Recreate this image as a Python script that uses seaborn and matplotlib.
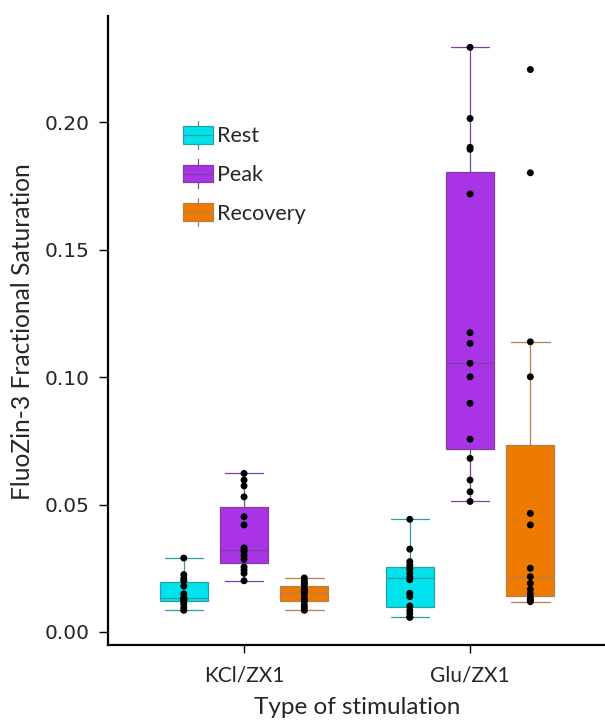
import pandas as pd
import matplotlib.pyplot as plt
import seaborn as sns
from matplotlib.legend_handler import HandlerBase
from matplotlib.patches import Rectangle
from matplotlib.lines import Line2D

# categories
stimuli = ["KCl/ZX1", "Glu/ZX1"]
phases = ["Rest", "Peak", "Recovery"]

# values (one list per stimulus / phase)
kcl_rest = [0.0085, 0.0095, 0.011, 0.012, 0.0125, 0.013, 0.013, 0.0135,
            0.015, 0.018, 0.020, 0.021, 0.0225, 0.029]
kcl_peak = [0.0201, 0.0230, 0.0243, 0.0255, 0.0285, 0.0300, 0.0315, 0.0320,
            0.0330, 0.0420, 0.0452, 0.0530, 0.0573, 0.0596, 0.0622]
kcl_recovery = [0.0085, 0.0095, 0.0105, 0.012, 0.0125, 0.0135, 0.015, 0.016,
                0.0165, 0.017, 0.0185, 0.019, 0.020, 0.0212]
glu_rest = [0.0058, 0.0058, 0.0072, 0.0085, 0.0102, 0.0139, 0.0152, 0.0205,
            0.0215, 0.0230, 0.0245, 0.0252, 0.0262, 0.0276, 0.0325, 0.0442]
glu_peak = [0.0512, 0.0550, 0.0596, 0.0681, 0.0756, 0.0897, 0.1001, 0.1054,
            0.1132, 0.1174, 0.1718, 0.1893, 0.1901, 0.2014, 0.2293]
glu_recovery = [0.0119, 0.0122, 0.0128, 0.0135, 0.0150, 0.0167, 0.0191, 0.0217,
                0.0250, 0.0420, 0.0465, 0.1001, 0.1138, 0.1801, 0.2206]

groups = {
    ("KCl/ZX1", "Rest"): kcl_rest,
    ("KCl/ZX1", "Peak"): kcl_peak,
    ("KCl/ZX1", "Recovery"): kcl_recovery,
    ("Glu/ZX1", "Rest"): glu_rest,
    ("Glu/ZX1", "Peak"): glu_peak,
    ("Glu/ZX1", "Recovery"): glu_recovery,
}
rows = []
for (stim, phase), vals in groups.items():
    for v in vals:
        rows.append({"stim": stim, "phase": phase, "value": v})
df = pd.DataFrame(rows)

fills = {"Rest": "#00E3EC", "Peak": "#A834E6", "Recovery": "#EE7A00"}
edges = {"Rest": "#2A9FA3", "Peak": "#7E3FA0", "Recovery": "#B5804E"}

sns.set_style("white")
plt.rcParams["font.family"] = ["Lato", "DejaVu Sans"]

fig = plt.figure(figsize=(6.05, 7.27), dpi=100)
ax = fig.add_axes([108 / 605, 1 - 645 / 727, (605 - 108) / 605, (645 - 16) / 727])

gap = 0.2
for p in phases:
    sns.boxplot(data=df[df["phase"] == p], x="stim", y="value", hue="phase",
                order=stimuli, hue_order=phases, palette=fills, dodge=True,
                width=0.8, gap=gap, saturation=1, linecolor=edges[p],
                linewidth=0.9, showfliers=False, legend=False, ax=ax)

# make whisker caps a bit wider, like the original
box_w = 0.8 / 3 * (1 - gap)
for ln in ax.lines:
    x = ln.get_xdata()
    y = ln.get_ydata()
    if len(x) == 2 and y[0] == y[1] and abs(x[1] - x[0]) < 0.9 * box_w:
        c = (x[0] + x[1]) / 2
        ln.set_xdata([c - 0.4 * box_w, c + 0.4 * box_w])

sns.stripplot(data=df, x="stim", y="value", hue="phase", order=stimuli,
              hue_order=phases, dodge=True, jitter=False,
              palette={p: "black" for p in phases}, size=5, linewidth=0,
              legend=False, ax=ax, zorder=3)

ax.set_xlim(-0.602, 1.597)
ax.set_ylim(-0.0051, 0.2416)
ax.set_yticks([0.0, 0.05, 0.10, 0.15, 0.20])
ax.set_yticklabels(["0.00", "0.05", "0.10", "0.15", "0.20"])
for lab in ax.get_yticklabels():
    lab.set_fontfamily("DejaVu Sans")
    lab.set_fontsize(14.5)
for lab in ax.get_xticklabels():
    lab.set_fontsize(15)
ax.tick_params(axis="both", direction="out", length=6.5, width=1,
               color="black", bottom=True, left=True)
ax.tick_params(axis="x", pad=8.5, length=6)
ax.tick_params(axis="y", pad=6.5)

for s in ["top", "right"]:
    ax.spines[s].set_visible(False)
for s in ["left", "bottom"]:
    ax.spines[s].set_color("black")
    ax.spines[s].set_linewidth(1.6)

ax.set_ylabel("FluoZin-3 Fractional Saturation", fontsize=17.7)
ax.yaxis.set_label_coords(-0.173, 0.4976)
ax.yaxis.label.set_va("center")
ax.set_xlabel("Type of stimulation", fontsize=17.5)
ax.xaxis.set_label_coords(0.501, -0.0986)
ax.xaxis.label.set_va("center")


class BoxKey(HandlerBase):
    def create_artists(self, legend, orig_handle, xdescent, ydescent,
                       width, height, fontsize, trans):
        x0, y0 = -xdescent, -ydescent
        ec = orig_handle.get_edgecolor()
        cx = x0 + width / 2
        whisk = Line2D([cx, cx], [y0 - 0.3 * height, y0 + 1.3 * height],
                       color=ec, lw=0.9, transform=trans)
        box = Rectangle((x0, y0), width, height, facecolor=orig_handle.get_facecolor(),
                        edgecolor=ec, lw=0.9, transform=trans)
        med = Line2D([x0, x0 + width], [y0 + height / 2] * 2, color=ec,
                     lw=0.9, transform=trans)
        return [whisk, box, med]


handles = [Rectangle((0, 0), 1, 1, facecolor=fills[p], edgecolor=edges[p])
           for p in phases]
ax.legend(handles, phases, handler_map={Rectangle: BoxKey()},
          loc="upper left", bbox_to_anchor=(183 / 605, 1 - 126 / 727),
          bbox_transform=fig.transFigure, frameon=False, fontsize=15.5,
          handlelength=1.4, handleheight=0.88, handletextpad=0.2,
          labelspacing=0.86, borderpad=0, borderaxespad=0)

fig.savefig("out.png", dpi=100)
